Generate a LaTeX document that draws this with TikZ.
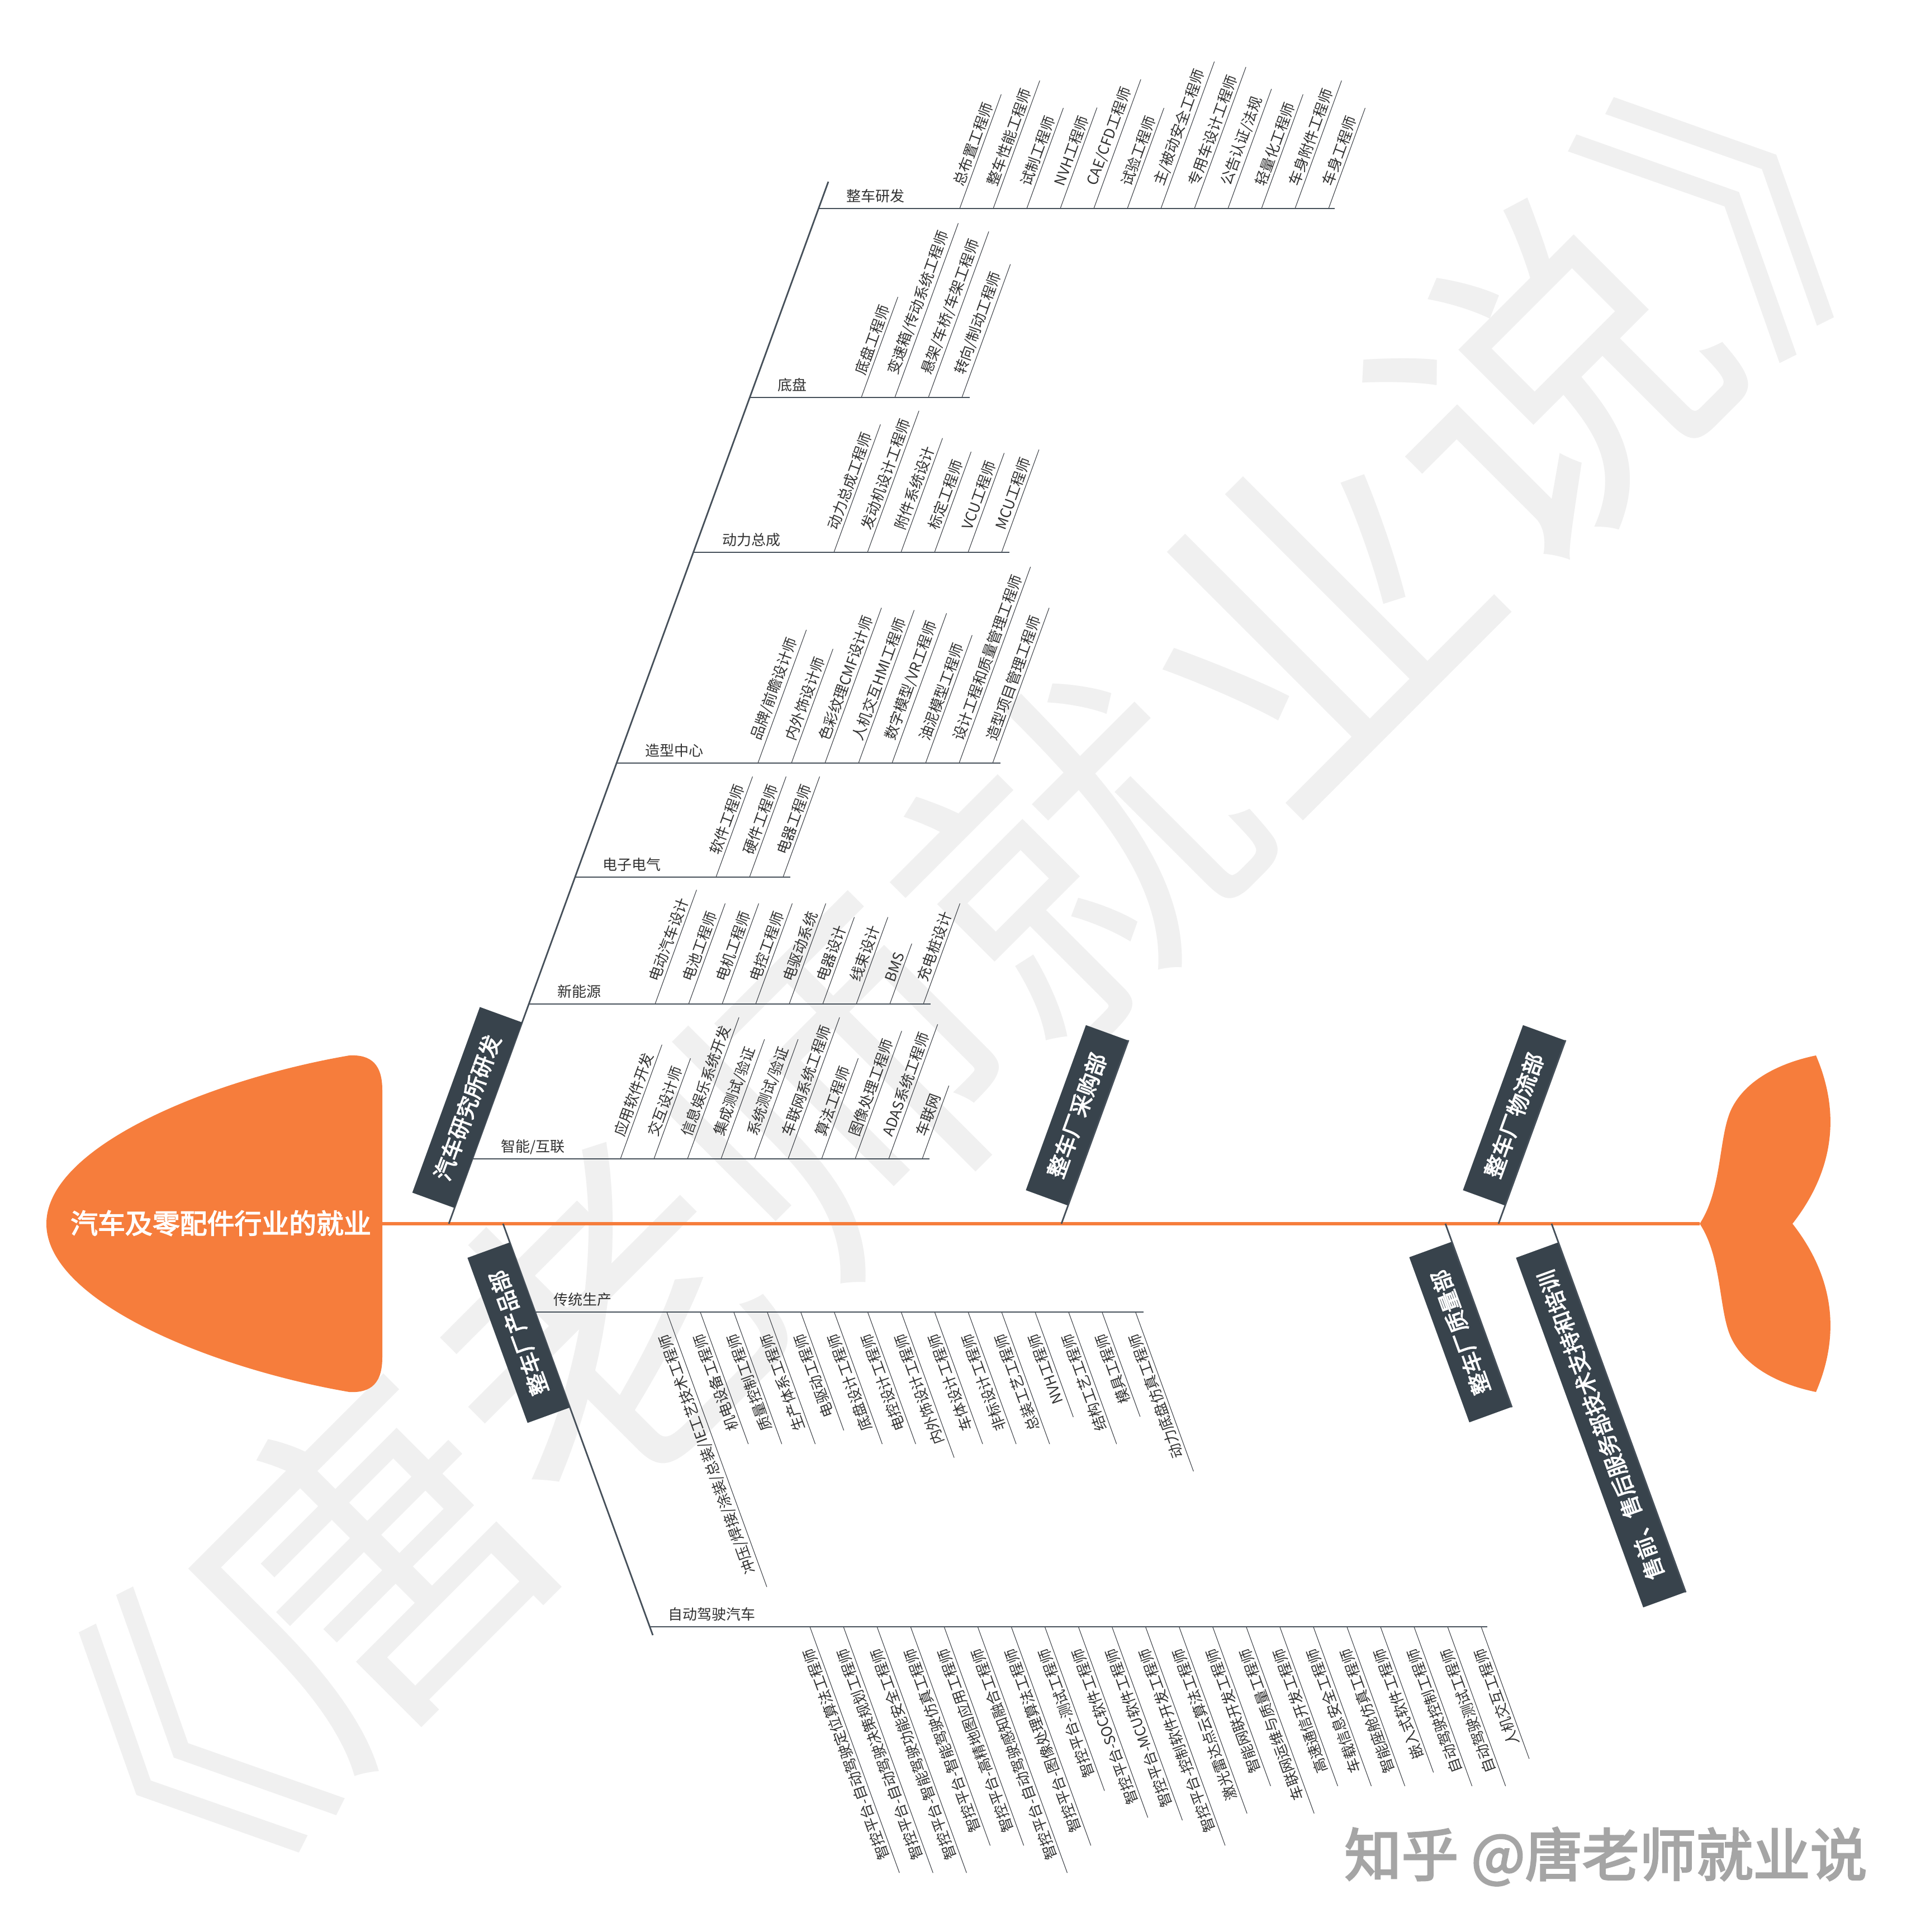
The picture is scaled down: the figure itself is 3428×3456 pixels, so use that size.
\documentclass[tikz,border=0pt]{standalone}
\usepackage{fontspec}
\setmainfont{Noto Sans CJK SC}
\newfontfamily\heavycjk{Noto Sans CJK SC}[FakeBold=3]
\usetikzlibrary{calc}
\definecolor{FishOrange}{RGB}{246,125,60}
\definecolor{BoxSlate}{RGB}{56,67,76}
\definecolor{BoneGray}{RGB}{70,80,90}
\definecolor{LeafGray}{RGB}{60,64,70}
\definecolor{TextGray}{RGB}{50,50,50}
\definecolor{MarkGray}{RGB}{240,240,240}
\definecolor{SignGray}{RGB}{165,165,165}
\tikzset{
  spine/.style={draw=FishOrange,line width=1.5pt},
  bone/.style={draw=BoneGray,line width=0.8pt},
  catline/.style={draw=BoneGray,line width=0.5pt},
  leafline/.style={draw=LeafGray,line width=0.3pt},
  catlabel/.style={anchor=base west,inner sep=0pt,text=TextGray,
    font=\fontsize{7.4pt}{9pt}\selectfont},
  upleaf/.style={rotate=70,anchor=south west,inner xsep=0pt,inner ysep=1.2pt,
    text=TextGray,font=\fontsize{7.4pt}{9pt}\selectfont},
  downleaf/.style={rotate=110,anchor=south east,inner xsep=0pt,inner ysep=1.2pt,
    text=TextGray,font=\fontsize{7.4pt}{9pt}\selectfont},
  mainbox/.style={fill=BoxSlate,text=white,anchor=south,inner xsep=0.4cm,
    inner ysep=0pt,minimum height=0.8cm,font=\heavycjk\fontsize{11.1pt}{13pt}\selectfont},
}

\begin{document}
\begin{tikzpicture}[x=0.01cm,y=-0.01cm]
  \useasboundingbox[fill=white] (0,0) rectangle (3428,3456);
  % watermark
  \node[rotate=45,text=MarkGray,font=\fontsize{170pt}{170pt}\selectfont] (mark) at (1710,1742) {《唐老师就业说》};
  \node[text=SignGray,font=\heavycjk\fontsize{29pt}{30pt}\selectfont] (sign) at (2873,3321) {知乎 @唐老师就业说};

  % head, tail, spine
  \fill[FishOrange] (684,2189) -- (684,1950) .. controls (684,1905) and (665,1886) .. (625,1888)
    .. controls (380,1930) and (83,2050) .. (83,2189)
    .. controls (83,2328) and (380,2448) .. (625,2490)
    .. controls (665,2492) and (684,2473) .. (684,2428) -- cycle;
  \fill[FishOrange] (3041,2189) .. controls (3080,2130) and (3075,2040) .. (3095,1990)
    .. controls (3120,1930) and (3190,1900) .. (3249,1888)
    .. controls (3280,1960) and (3300,2070) .. (3207,2189)
    .. controls (3300,2308) and (3280,2418) .. (3249,2490)
    .. controls (3190,2478) and (3120,2448) .. (3095,2388)
    .. controls (3075,2338) and (3080,2248) .. (3041,2189) -- cycle;
  \node[text=white,font=\heavycjk\fontsize{13.9pt}{15pt}\selectfont] (head) at (395,2188) {汽车及零配件行业的就业};
  \draw[spine] (684,2189) -- (3041,2189);

  % main bones
  \draw[bone] (803,2189) -- (1482,325);
  \draw[bone] (900,2189) -- (1168,2925);
  \node[mainbox,rotate=70] (rd) at (874,1995) {汽车研究所研发};
  \node[mainbox,rotate=110] (cp) at (966,2370) {整车厂产品部};
  \node[mainbox,rotate=70] (cg) at (1965,2009) {整车厂采购部};
  \node[mainbox,rotate=70] (wl) at (2747,2009) {整车厂物流部};
  \node[mainbox,rotate=110] (zl) at (2651,2369) {整车厂质量部};
  \node[mainbox,rotate=110] (sh) at (2902,2535) {售前、售后服务部技术支持和培训};
  \draw[bone] (1899,2189) -- (cg.south east);
  \draw[bone] (2681,2189) -- (wl.south east);
  \draw[bone] (2586,2189) -- (zl.south west);
  \draw[bone] (2776,2189) -- (sh.south west);

  % 整车研发
  \node[catlabel] (zyl) at (1514,360) {整车研发};
  \foreach \job [count=\i] in {总布置工程师,整车性能工程师,试制工程师,NVH工程师,CAE/CFD工程师,试验工程师,
      主/被动安全工程师,专用车设计工程师,公告认证/法规,轻量化工程师,车身附件工程师,车身工程师}{
    \node[upleaf] (zy\i) at ({1717+60*(\i-1)},373) {\hspace*{1.45em}\job\hspace*{0.85em}};
    \draw[leafline] (zy\i.south west) -- (zy\i.south east);
  }
  \draw[catline] (1464,373) -- ($(zy12.south west)+(11,0)$);

  % 底盘
  \node[catlabel] (dpl) at (1391,698) {底盘};
  \foreach \job [count=\i] in {底盘工程师,变速箱/传动系统工程师,悬架/车桥/车架工程师,转向/制动工程师}{
    \node[upleaf] (dp\i) at ({1541+60*(\i-1)},711) {\hspace*{1.45em}\job\hspace*{0.85em}};
    \draw[leafline] (dp\i.south west) -- (dp\i.south east);
  }
  \draw[catline] (1341,711) -- ($(dp4.south west)+(14,0)$);

  % 动力总成
  \node[catlabel] (dll) at (1292,975) {动力总成};
  \foreach \job [count=\i] in {动力总成工程师,发动机设计工程师,附件系统设计,标定工程师,VCU工程师,MCU工程师}{
    \node[upleaf] (dl\i) at ({1492+60*(\i-1)},988) {\hspace*{1.45em}\job\hspace*{0.85em}};
    \draw[leafline] (dl\i.south west) -- (dl\i.south east);
  }
  \draw[catline] (1240,988) -- ($(dl6.south west)+(14,0)$);

  % 造型中心
  \node[catlabel] (zxl) at (1154,1352) {造型中心};
  \foreach \job [count=\i] in {品牌/前瞻设计师,内外饰设计师,色彩纹理CMF设计师,人机交互HMI工程师,数字模型/VR工程师,
      油泥模型工程师,设计工程和质量管理工程师,造型项目管理工程师}{
    \node[upleaf] (zx\i) at ({1356+60*(\i-1)},1365) {\hspace*{1.45em}\job\hspace*{0.85em}};
    \draw[leafline] (zx\i.south west) -- (zx\i.south east);
  }
  \draw[catline] (1103,1365) -- ($(zx8.south west)+(14,0)$);

  % 电子电气
  \node[catlabel] (dzl) at (1078,1556) {电子电气};
  \foreach \job [count=\i] in {软件工程师,硬件工程师,电器工程师}{
    \node[upleaf] (dz\i) at ({1281+60*(\i-1)},1569) {\hspace*{1.45em}\job\hspace*{0.85em}};
    \draw[leafline] (dz\i.south west) -- (dz\i.south east);
  }
  \draw[catline] (1029,1569) -- ($(dz3.south west)+(13,0)$);

  % 新能源
  \node[catlabel] (xnl) at (997,1783) {新能源};
  \foreach \job [count=\i] in {电动汽车设计,电池工程师,电机工程师,电控工程师,电驱动系统,电器设计,线束设计,BMS,充电桩设计}{
    \node[upleaf] (xn\i) at ({1172+60*(\i-1)},1796) {\hspace*{1.45em}\job\hspace*{0.85em}};
    \draw[leafline] (xn\i.south west) -- (xn\i.south east);
  }
  \draw[catline] (946,1796) -- ($(xn9.south west)+(13,0)$);

  % 智能/互联
  \node[catlabel] (znl) at (896,2060) {智能/互联};
  \foreach \job [count=\i] in {应用软件开发,交互设计师,信息娱乐系统开发,集成测试/验证,系统测试/验证,车联网系统工程师,
      算法工程师,图像处理工程师,ADAS系统工程师,车联网}{
    \node[upleaf] (zn\i) at ({1110+60*(\i-1)},2073) {\hspace*{1.45em}\job\hspace*{0.85em}};
    \draw[leafline] (zn\i.south west) -- (zn\i.south east);
  }
  \draw[catline] (845,2073) -- ($(zn10.south west)+(13,0)$);

  % 传统生产
  \node[catlabel] (ctl) at (990,2334) {传统生产};
  \foreach \job [count=\i] in {冲压/焊接/涂装/总装/IE工艺技术工程师,机电设备工程师,质量控制工程师,生产体系工程师,
      电驱动工程师,底盘设计工程师,电控设计工程师,内外饰设计工程师,车体设计工程师,非标设计工程师,
      总装工艺工程师,NVH工程师,结构工艺工程师,模具工程师,动力底盘仿真工程师}{
    \node[downleaf] (ct\i) at ({1193+59.9*(\i-1)},2347) {\hspace*{1.2em}\job\hspace*{1.4em}};
    \draw[leafline] (ct\i.south east) -- (ct\i.south west);
  }
  \draw[catline] (957,2347) -- ($(ct15.south east)+(14,0)$);

  % 自动驾驶汽车
  \node[catlabel] (zdl) at (1195,2897) {自动驾驶汽车};
  \foreach \job [count=\i] in {智控平台-自动驾驶定位算法工程师,智控平台-自动驾驶决策规划工程师,智控平台-智能驾驶功能安全工程师,
      智控平台-智能驾驶仿真工程师,智控平台-高精地图应用工程师,智控平台-自动驾驶感知融合工程师,
      智控平台-图像处理算法工程师,智控平台-测试工程师,智控平台-SOC软件工程师,智控平台-MCU软件工程师,
      智控平台-控制软件开发工程师,激光雷达点云算法工程师,智能网联开发工程师,车联网运维与质量工程师,
      高速通信开发工程师,车载信息安全工程师,智能座舱仿真工程师,嵌入式软件工程师,自动驾驶控制工程师,
      自动驾驶测试工程师,人机交互工程师}{
    \node[downleaf] (zd\i) at ({1449+60.05*(\i-1)},2910) {\hspace*{1.2em}\job\hspace*{1.4em}};
    \draw[leafline] (zd\i.south east) -- (zd\i.south west);
  }
  \draw[catline] (1162,2910) -- ($(zd21.south east)+(11,0)$);
\end{tikzpicture}
\end{document}
